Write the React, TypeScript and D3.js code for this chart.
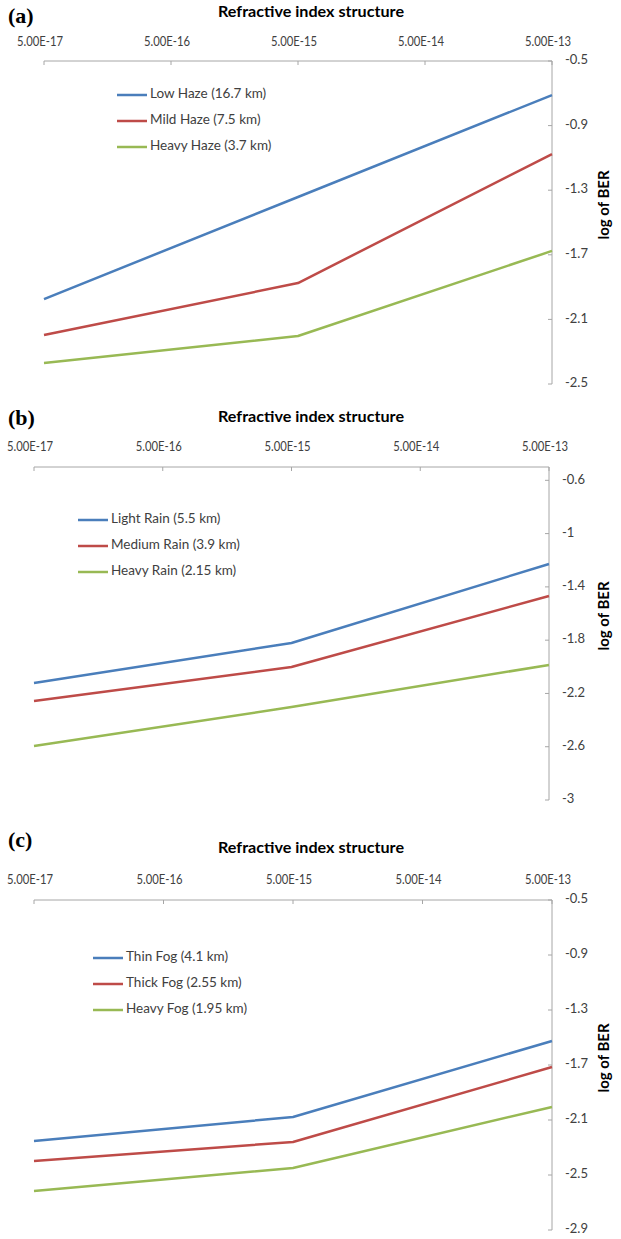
import React from "react";
import * as d3 from "d3";

// Refractive index structure parameter (Cn²) values at which BER was evaluated
const cn2Values = [5e-17, 5e-15, 5e-13];
const xTickValues = [5e-17, 5e-16, 5e-15, 5e-14, 5e-13];
const xTickLabels = ["5.00E-17", "5.00E-16", "5.00E-15", "5.00E-14", "5.00E-13"];

// (a) haze
const hazeNames = ["Low Haze (16.7 km)", "Mild Haze (7.5 km)", "Heavy Haze (3.7 km)"];
const lowHaze = [-1.974, -1.342, -0.711];
const mildHaze = [-2.197, -1.875, -1.076];
const heavyHaze = [-2.37, -2.203, -1.676];

// (b) rain
const rainNames = ["Light Rain (5.5 km)", "Medium Rain (3.9 km)", "Heavy Rain (2.15 km)"];
const lightRain = [-2.122, -1.821, -1.228];
const mediumRain = [-2.257, -2.002, -1.468];
const heavyRain = [-2.595, -2.302, -1.986];

// (c) fog
const fogNames = ["Thin Fog (4.1 km)", "Thick Fog (2.55 km)", "Heavy Fog (1.95 km)"];
const thinFog = [-2.253, -2.078, -1.525];
const thickFog = [-2.398, -2.26, -1.715];
const heavyFog = [-2.616, -2.449, -2.005];

// y-axis tick values (log of BER)
const yTicksA = [-0.5, -0.9, -1.3, -1.7, -2.1, -2.5];
const yTicksB = [-0.6, -1, -1.4, -1.8, -2.2, -2.6, -3];
const yTicksC = [-0.5, -0.9, -1.3, -1.7, -2.1, -2.5, -2.9];

const seriesColors = ["#4a7ebb", "#be4b48", "#98b954"];
const AXIS = "#a6a6a6";
const TEXT = "#404040";
const SANS = "Lato, 'Open Sans', 'Noto Sans', sans-serif";

type PanelProps = {
  tag: string;
  names: string[];
  series: number[][];
  yTicks: number[];
  yDomain: [number, number];
  x0: number;
  x1: number;
  yTop: number;
  yBottom: number;
  tagY: number;
  titleY: number;
  tickLabelY: number;
  legendX: number;
  legendY: number[];
  yLabelCY: number;
};

function Panel(p: PanelProps) {
  const x = d3.scaleLog().domain([5e-17, 5e-13]).range([p.x0, p.x1]);
  const y = d3.scaleLinear().domain(p.yDomain).range([p.yBottom, p.yTop]);
  const line = d3
    .line<[number, number]>()
    .x((d) => x(d[0]))
    .y((d) => y(d[1]));

  return (
    <g>
      <text
        x={8}
        y={p.tagY}
        fontFamily="'Liberation Serif', 'Times New Roman', serif"
        fontWeight="bold"
        fontSize={22}
        dominantBaseline="middle"
        fill="#000"
      >
        {p.tag}
      </text>
      <text
        x={311}
        y={p.titleY}
        textAnchor="middle"
        dominantBaseline="middle"
        fontFamily={SANS}
        fontWeight="bold"
        fontSize={15.5}
        textLength={186}
        lengthAdjust="spacingAndGlyphs"
        fill="#000"
      >
        Refractive index structure
      </text>

      {/* top (log) axis */}
      <line x1={p.x0} x2={p.x1} y1={p.yTop} y2={p.yTop} stroke={AXIS} strokeWidth={1} />
      {xTickValues.map((v, i) => (
        <g key={"xt" + i}>
          <line x1={x(v)} x2={x(v)} y1={p.yTop} y2={p.yTop + 4} stroke={AXIS} strokeWidth={1} />
          <text
            x={x(v) - 4}
            y={p.tickLabelY}
            textAnchor="middle"
            dominantBaseline="middle"
            fontFamily={SANS}
            fontSize={13}
            textLength={46}
            lengthAdjust="spacingAndGlyphs"
            fill={TEXT}
          >
            {xTickLabels[i]}
          </text>
        </g>
      ))}

      {/* right value axis */}
      <line x1={p.x1} x2={p.x1} y1={p.yTop} y2={p.yBottom} stroke={AXIS} strokeWidth={1} />
      {p.yTicks.map((v) => (
        <g key={"yt" + v}>
          <line x1={p.x1 - 4} x2={p.x1} y1={y(v)} y2={y(v)} stroke={AXIS} strokeWidth={1} />
          <text
            x={p.x1 + 13}
            y={y(v)}
            dominantBaseline="middle"
            fontFamily={SANS}
            fontSize={13}
            fill={TEXT}
          >
            {String(v)}
          </text>
        </g>
      ))}
      <text
        transform={`translate(605,${p.yLabelCY}) rotate(-90)`}
        textAnchor="middle"
        dominantBaseline="middle"
        fontFamily={SANS}
        fontWeight="bold"
        fontSize={15}
        fill="#000"
      >
        log of BER
      </text>

      {/* series */}
      {p.series.map((vals, i) => (
        <path
          key={"s" + i}
          d={line(cn2Values.map((c, j) => [c, vals[j]] as [number, number])) || ""}
          fill="none"
          stroke={seriesColors[i]}
          strokeWidth={2.5}
          strokeLinejoin="round"
        />
      ))}

      {/* legend */}
      {p.names.map((n, i) => (
        <g key={"lg" + i}>
          <line
            x1={p.legendX}
            x2={p.legendX + 30}
            y1={p.legendY[i]}
            y2={p.legendY[i]}
            stroke={seriesColors[i]}
            strokeWidth={2.5}
          />
          <text
            x={p.legendX + 33}
            y={p.legendY[i]}
            dominantBaseline="middle"
            fontFamily={SANS}
            fontSize={13.5}
            fill={TEXT}
          >
            {n}
          </text>
        </g>
      ))}
    </g>
  );
}

export default function App() {
  return (
    <svg
      width={621}
      height={1239}
      viewBox="0 0 621 1239"
      style={{ position: "absolute", left: 0, top: 0, background: "#fff" }}
    >
      <rect x={0} y={0} width={621} height={1239} fill="#fff" />
      <Panel
        tag="(a)"
        names={hazeNames}
        series={[lowHaze, mildHaze, heavyHaze]}
        yTicks={yTicksA}
        yDomain={[-2.5, -0.5]}
        x0={44}
        x1={552}
        yTop={61}
        yBottom={384}
        tagY={18}
        titleY={13}
        tickLabelY={43}
        legendX={117}
        legendY={[95, 121, 147]}
        yLabelCY={205}
      />
      <Panel
        tag="(b)"
        names={rainNames}
        series={[lightRain, mediumRain, heavyRain]}
        yTicks={yTicksB}
        yDomain={[-3, -0.5]}
        x0={34}
        x1={549}
        yTop={467}
        yBottom={800}
        tagY={420}
        titleY={418}
        tickLabelY={448}
        legendX={78}
        legendY={[520, 546, 572]}
        yLabelCY={616}
      />
      <Panel
        tag="(c)"
        names={fogNames}
        series={[thinFog, thickFog, heavyFog]}
        yTicks={yTicksC}
        yDomain={[-2.9, -0.5]}
        x0={34}
        x1={552}
        yTop={900}
        yBottom={1230}
        tagY={842}
        titleY={849}
        tickLabelY={881}
        legendX={93}
        legendY={[958, 984, 1010]}
        yLabelCY={1058}
      />
    </svg>
  );
}
